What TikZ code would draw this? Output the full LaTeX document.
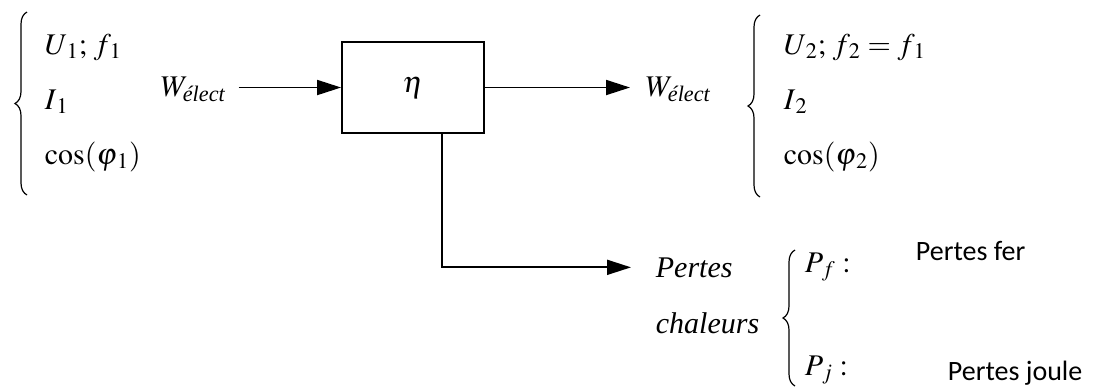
\documentclass[tikz,border=0pt]{standalone}
\usepackage{amsmath}
\usepackage{mathptmx}
\usepackage{fontspec}
\setmainfont{Liberation Serif}
\newfontfamily\calibri{Carlito}
\usetikzlibrary{arrows.meta,decorations.pathreplacing}

\begin{document}
\begin{tikzpicture}[x=0.5pt, y=-0.5pt, line width=0.9pt,
      nodes={font=\fontsize{15}{18}\selectfont, inner sep=0pt},
      bloc/.style={draw, minimum width=71pt, minimum height=45.5pt},
      fleche/.style={-{Triangle[length=12pt, width=7.5pt]}},
      accolade/.style={decorate, line width=0.6pt, decoration={brace, amplitude=6pt}},
      texte/.style={anchor=base west},
      legende/.style={anchor=base west, font=\calibri\fontsize{14}{17}\selectfont}]
  \useasboundingbox (0,0) rectangle (1102,388);

  \node[bloc] (eta) at (413,87.5) {$\eta$};

  \draw[accolade] (27,195) -- (27,12);
  \node[texte] (U1) at (44,54) {$U_{\,1};\, f_{\,1}$};
  \node[texte] (I1) at (44,109) {$I_{\,1}$};
  \node[texte] (cos1) at (44,164) {$\cos(\varphi_{\,1})$};
  \node[texte] (Wentree) at (160,96) {$W_{\textit{élect}}$};

  \node[texte] (Wsortie) at (645,96) {$W_{\textit{élect}}$};
  \draw[accolade] (760,197) -- (760,15);
  \node[texte] (U2) at (783,54) {$U_{\,2};\, f_{\,2} = f_{\,1}$};
  \node[texte] (I2) at (783,109) {$I_{\,2}$};
  \node[texte] (cos2) at (783,164) {$\cos(\varphi_{\,2})$};

  \node[texte] (pert) at (655,277) {\textit{Pertes}};
  \node[texte] (chal) at (655,333) {\textit{chaleurs}};
  \draw[accolade] (795,386) -- (795,250);
  \node[texte] (Pf) at (804,272) {$P_{\,f} :$};
  \node[texte] (Pj) at (804,375) {$P_{\,j} :$};
  \node[legende] (fer) at (915,260) {Pertes fer};
  \node[legende] (joule) at (947,380) {Pertes joule};

  \draw[fleche] ([xshift=6pt]Wentree.east |- eta.west) -- (eta.west);
  \draw[fleche] (eta.east) -- ([xshift=-7.5pt]Wsortie.west |- eta.east);
  \draw[fleche] ([xshift=14.5pt]eta.south) |- ([xshift=-12pt]pert.west);
\end{tikzpicture}
\end{document}
